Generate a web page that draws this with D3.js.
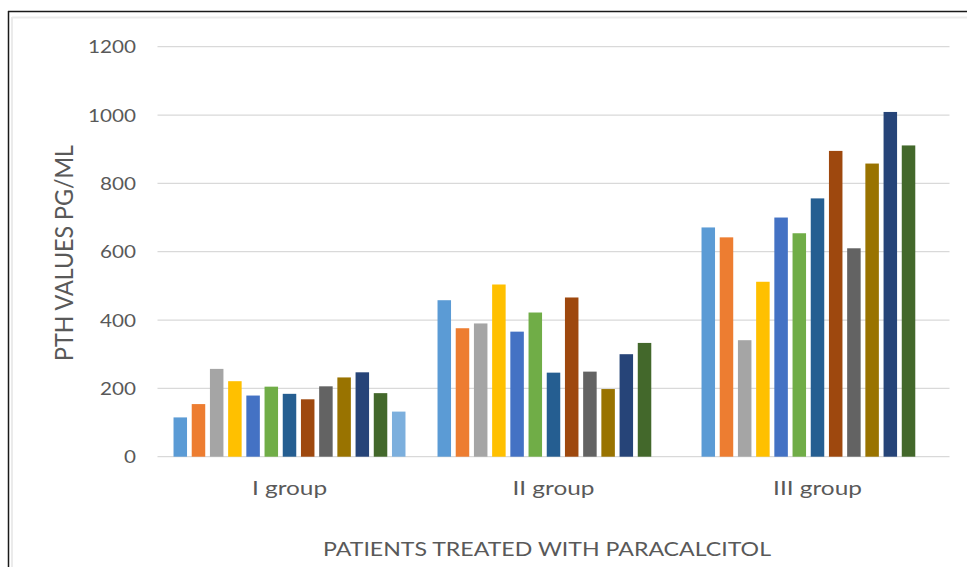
<!DOCTYPE html>
<html>
<head>
<meta charset="utf-8">
<script src="https://cdn.jsdelivr.net/npm/d3@7"></script>
<style>
  html, body { margin: 0; padding: 0; background: #fff; }
  svg { display: block; }
  text { font-family: Lato, "Open Sans", sans-serif; fill: #595959; }
</style>
</head>
<body>
<svg id="chart" width="967" height="567"></svg>
<script>
// PTH values (pg/ml) per patient, one array per treatment group
const groups = ["I group", "II group", "III group"];
const groupI   = [115, 154, 257, 221, 179, 205, 184, 168, 206, 232, 247, 186, 132];
const groupII  = [458, 376, 390, 504, 366, 422, 246, 466, 249, 198, 300, 333];
const groupIII = [671, 642, 341, 512, 700, 654, 756, 895, 610, 858, 1009, 911];
const seriesColors = ["#5B9BD5", "#ED7D31", "#A5A5A5", "#FFC000", "#4472C4", "#70AD47",
                      "#255E91", "#9E480E", "#636363", "#997300", "#264478", "#43682B", "#7CAFDD"];
const yTicks = [0, 200, 400, 600, 800, 1000, 1200];

const values = [groupI, groupII, groupIII];
const nSeries = seriesColors.length;

const svg = d3.select("#chart");

// outer frame
svg.append("line").attr("x1", 12).attr("x2", 967).attr("y1", 17.5).attr("y2", 17.5)
  .attr("stroke", "#ebebeb").attr("stroke-width", 2);
svg.append("line").attr("x1", 12).attr("x2", 12).attr("y1", 17).attr("y2", 567)
  .attr("stroke", "#ebebeb").attr("stroke-width", 2);
svg.append("line").attr("x1", 8).attr("x2", 967).attr("y1", 11.5).attr("y2", 11.5)
  .attr("stroke", "#1a1a1a").attr("stroke-width", 1.5);
svg.append("line").attr("x1", 8.5).attr("x2", 8.5).attr("y1", 11).attr("y2", 567)
  .attr("stroke", "#1a1a1a").attr("stroke-width", 1.5);

const x = d3.scaleBand().domain(groups).range([157.5, 949.5]).padding(0);
const xs = d3.scaleBand().domain(d3.range(nSeries)).range([0, x.bandwidth()])
  .paddingInner(0.258).paddingOuter(0.88);
const y = d3.scaleLinear().domain([0, 1200]).range([456.7, 46.7]);

// horizontal gridlines
svg.append("g").selectAll("line").data(yTicks).join("line")
  .attr("x1", 157.5).attr("x2", 949.5)
  .attr("y1", d => y(d)).attr("y2", d => y(d))
  .attr("stroke", "#d9d9d9").attr("stroke-width", 1.3);

// y axis labels
const yAxis = d3.axisLeft(y).tickValues(yTicks).tickFormat(d3.format("d"))
  .tickSize(0).tickPadding(0);
const gy = svg.append("g").attr("transform", "translate(136,0)").call(yAxis);
gy.select(".domain").remove();
gy.selectAll("text")
  .style("font-size", "17px").attr("dy", "0.36em")
  .attr("textLength", d => String(d).length * 12).attr("lengthAdjust", "spacingAndGlyphs");

// bars
const gGroups = svg.append("g").selectAll("g").data(groups).join("g")
  .attr("transform", d => `translate(${x(d)},0)`);
gGroups.selectAll("rect")
  .data((g, gi) => values[gi].map((v, i) => ({ v, i })))
  .join("rect")
  .attr("x", d => xs(d.i))
  .attr("width", xs.bandwidth())
  .attr("y", d => y(d.v))
  .attr("height", d => y(0) - y(d.v))
  .attr("fill", d => seriesColors[d.i]);

// category labels, slightly widened
const xAxis = d3.axisBottom(x).tickSize(0).tickPadding(0);
const gx = svg.append("g").attr("transform", "translate(0,495)").call(xAxis);
gx.select(".domain").remove();
gx.selectAll("text").style("font-size", "20px").attr("dy", 0)
  .each(function () {
    const w = this.getComputedTextLength();
    d3.select(this).attr("textLength", w * 1.22).attr("lengthAdjust", "spacingAndGlyphs");
  });

// axis titles
svg.append("text")
  .attr("x", 547).attr("y", 556).attr("text-anchor", "middle")
  .style("font-size", "19.5px")
  .attr("textLength", 448).attr("lengthAdjust", "spacingAndGlyphs")
  .text("PATIENTS TREATED WITH PARACALCITOL");

svg.append("text")
  .attr("transform", "translate(73,253) rotate(-90)")
  .attr("text-anchor", "middle")
  .style("font-size", "25px")
  .attr("textLength", 216).attr("lengthAdjust", "spacingAndGlyphs")
  .text("PTH VALUES PG/ML");
</script>
</body>
</html>
